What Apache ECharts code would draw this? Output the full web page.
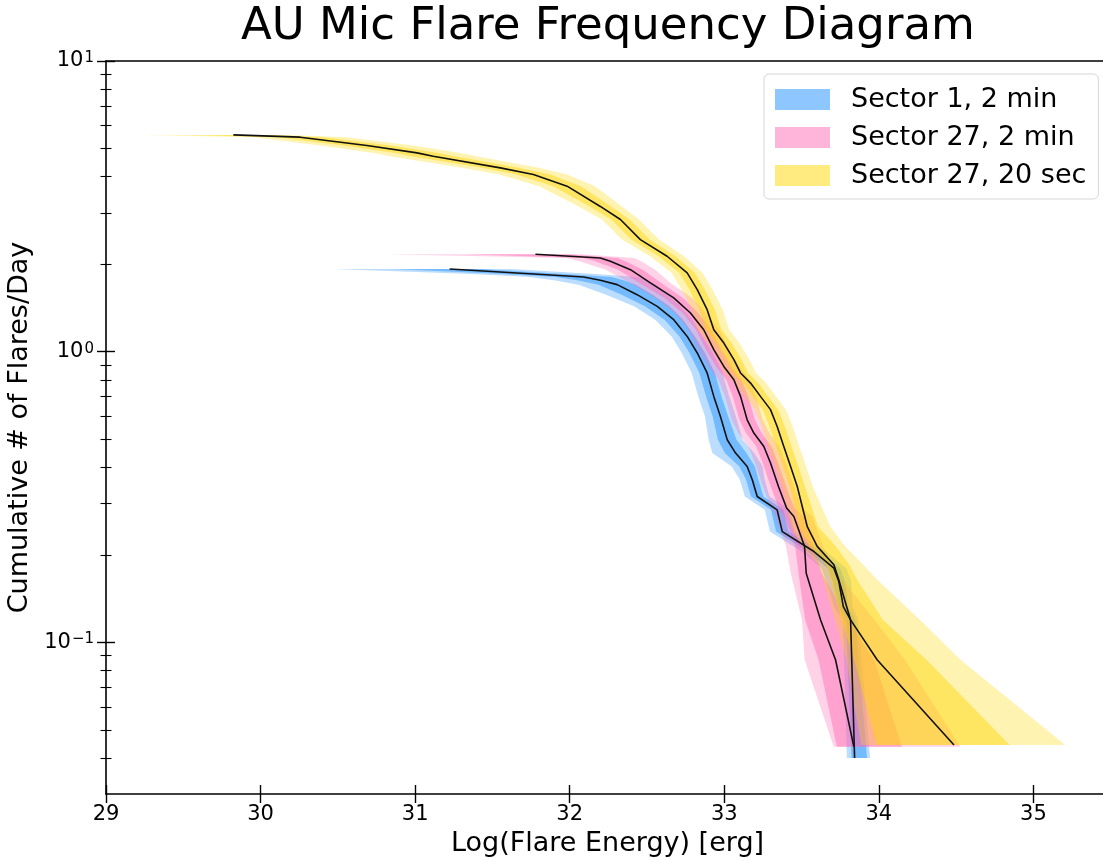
<!DOCTYPE html>
<html>
<head>
<meta charset="utf-8">
<title>AU Mic Flare Frequency Diagram</title>
<script src="https://cdn.jsdelivr.net/npm/echarts@6/dist/echarts.min.js"></script>
<style>
  html, body { margin: 0; padding: 0; background: #fff; }
  #chart { width: 1103px; height: 861px; }
</style>
</head>
<body>
<div id="chart"></div>
<script>
// values
// energy = log10(flare energy / erg), rate = cumulative flares per day
// band offsets are in dex from the median curve: outer lo, inner lo, inner hi, outer hi

// Sector 1, 2 min
const s1Rate = [1.926, 1.851, 1.807, 1.762, 1.701, 1.571, 1.432, 1.289, 1.129, 0.99, 0.845, 0.702, 0.599,
  0.498, 0.448, 0.403, 0.3625, 0.3177, 0.2858, 0.2406, 0.2054, 0.18, 0.162, 0.1328, 0.1195, 0.04];
const s1Energy = [31.223, 31.767, 32.09, 32.198, 32.307, 32.436, 32.566, 32.673, 32.76, 32.825, 32.889, 32.932, 32.975,
  33.019, 33.073, 33.148, 33.181, 33.213, 33.342, 33.375, 33.58, 33.709, 33.741, 33.77, 33.817, 33.843];
const s1OutLo = [0.75, 0.4, 0.35, 0.3, 0.25, 0.2, 0.15, 0.12, 0.1, 0.1, 0.1, 0.1, 0.1,
  0.12, 0.15, 0.1, 0.08, 0.08, 0.08, 0.08, 0.08, 0.08, 0.08, 0.06, 0.05, 0.05];
const s1InLo = [0.36, 0.2, 0.18, 0.15, 0.12, 0.1, 0.08, 0.06, 0.05, 0.05, 0.05, 0.05, 0.05,
  0.06, 0.07, 0.05, 0.04, 0.04, 0.04, 0.04, 0.04, 0.04, 0.04, 0.03, 0.03, 0.02];
const s1InHi = [0.2, 0.2, 0.18, 0.15, 0.12, 0.1, 0.08, 0.06, 0.05, 0.05, 0.05, 0.05, 0.05,
  0.06, 0.07, 0.05, 0.04, 0.04, 0.04, 0.04, 0.04, 0.04, 0.04, 0.03, 0.03, 0.08];
const s1OutHi = [0.4, 0.4, 0.35, 0.3, 0.25, 0.2, 0.15, 0.12, 0.1, 0.1, 0.1, 0.1, 0.1,
  0.1, 0.12, 0.1, 0.08, 0.08, 0.08, 0.08, 0.08, 0.08, 0.08, 0.06, 0.05, 0.1];

// Sector 27, 2 min
const s27Rate = [2.163, 2.101, 2.046, 1.915, 1.724, 1.531, 1.359, 1.19, 1.016, 0.89, 0.801, 0.702, 0.583,
  0.525, 0.472, 0.414, 0.343, 0.29, 0.271, 0.2254, 0.214, 0.173, 0.1195, 0.087, 0.0438];
const s27Energy = [31.778, 32.198, 32.263, 32.393, 32.522, 32.673, 32.781, 32.867, 32.932, 32.997, 33.062, 33.105, 33.148,
  33.191, 33.256, 33.299, 33.351, 33.403, 33.45, 33.504, 33.519, 33.53, 33.623, 33.72, 33.838];
const s27OutLo = [0.96, 0.22, 0.2, 0.16, 0.13, 0.12, 0.1, 0.1, 0.1, 0.1, 0.1, 0.1, 0.1,
  0.1, 0.1, 0.1, 0.1, 0.1, 0.12, 0.12, 0.12, 0.1, 0.12, 0.2, 0.13];
const s27InLo = [0.45, 0.11, 0.1, 0.08, 0.07, 0.06, 0.05, 0.05, 0.05, 0.05, 0.05, 0.05, 0.05,
  0.05, 0.05, 0.05, 0.05, 0.05, 0.06, 0.06, 0.06, 0.05, 0.1, 0.11, 0.11];
const s27InHi = [0.2, 0.11, 0.1, 0.08, 0.07, 0.06, 0.05, 0.05, 0.05, 0.05, 0.05, 0.05, 0.05,
  0.05, 0.05, 0.05, 0.05, 0.05, 0.06, 0.06, 0.06, 0.1, 0.18, 0.25, 0.31];
const s27OutHi = [0.3, 0.22, 0.2, 0.16, 0.13, 0.12, 0.1, 0.1, 0.1, 0.1, 0.1, 0.1, 0.1,
  0.1, 0.1, 0.1, 0.1, 0.1, 0.12, 0.12, 0.12, 0.2, 0.35, 0.45, 0.69];

// Sector 27, 20 sec
const s27fRate = [5.57, 5.47, 5.12, 4.83, 4.7, 4.29, 4.07, 3.71, 3.16, 2.85, 2.43, 2.13, 1.866, 1.635, 1.395, 1.19,
  1.071, 0.939, 0.845, 0.78, 0.702, 0.632, 0.553, 0.472, 0.403, 0.344, 0.25, 0.214, 0.185, 0.164, 0.1195, 0.087, 0.0444];
const s27fEnergy = [29.824, 30.256, 30.688, 31.012, 31.117, 31.551, 31.765, 31.983, 32.198, 32.328, 32.457, 32.63, 32.76,
  32.825, 32.889, 32.932, 32.997, 33.062, 33.105, 33.17, 33.234, 33.299, 33.342, 33.385, 33.429, 33.472, 33.537, 33.601,
  33.709, 33.741, 33.817, 33.99, 34.486];
const s27fOutLo = [0.58, 0.3, 0.3, 0.28, 0.28, 0.25, 0.22, 0.18, 0.14, 0.12, 0.12, 0.11, 0.1, 0.1, 0.1, 0.1,
  0.1, 0.1, 0.1, 0.1, 0.1, 0.1, 0.1, 0.1, 0.1, 0.1, 0.1, 0.1, 0.1, 0.1, 0.1, 0.2, 0.6];
const s27fInLo = [0.28, 0.15, 0.15, 0.14, 0.14, 0.12, 0.11, 0.09, 0.07, 0.06, 0.06, 0.055, 0.05, 0.05, 0.05, 0.05,
  0.05, 0.05, 0.05, 0.05, 0.05, 0.05, 0.05, 0.05, 0.05, 0.05, 0.05, 0.05, 0.05, 0.05, 0.06, 0.15, 0.5];
const s27fInHi = [0.2, 0.15, 0.15, 0.14, 0.14, 0.12, 0.11, 0.09, 0.07, 0.06, 0.06, 0.055, 0.05, 0.05, 0.05, 0.05,
  0.05, 0.05, 0.05, 0.05, 0.05, 0.05, 0.05, 0.05, 0.05, 0.05, 0.07, 0.12, 0.1, 0.12, 0.21, 0.32, 0.36];
const s27fOutHi = [0.35, 0.3, 0.3, 0.28, 0.28, 0.25, 0.22, 0.18, 0.14, 0.12, 0.12, 0.11, 0.1, 0.1, 0.1, 0.1,
  0.1, 0.1, 0.1, 0.1, 0.1, 0.1, 0.1, 0.1, 0.1, 0.1, 0.15, 0.18, 0.19, 0.25, 0.45, 0.54, 0.72];

const seriesNames = ['Sector 1, 2 min', 'Sector 27, 2 min', 'Sector 27, 20 sec'];
const xTicks = [29, 30, 31, 32, 33, 34, 35];
const yMajorTicks = [0.1, 1, 10];
const yMinorTicks = [0.04, 0.05, 0.06, 0.07, 0.08, 0.09, 0.2, 0.3, 0.4, 0.5, 0.6, 0.7, 0.8, 0.9,
  2, 3, 4, 5, 6, 7, 8, 9];

const FONT = 'DejaVu Sans';
// dodgerblue / hotpink / gold, layered with alpha like fill_betweenx
const bandRgb = ['30,144,255', '255,105,180', '255,215,0'];

// closed outline: down the low-energy edge, back up the high-energy edge
function bandOutline(rate, energy, lo, hi) {
  const left = rate.map((r, i) => [energy[i] - lo[i], r]);
  const right = rate.map((r, i) => [energy[i] + hi[i], r]).reverse();
  return left.concat(right);
}

function bandSeries(name, pts, fill) {
  return {
    type: 'custom',
    name: name,
    silent: true,
    clip: true,
    data: [[33, 1]],
    renderItem: function (params, api) {
      return {
        type: 'polygon',
        shape: { points: pts.map((p) => api.coord(p)) },
        style: { fill: fill },
      };
    },
  };
}

function medianSeries(name, rate, energy) {
  return {
    type: 'line',
    name: name,
    silent: true,
    showSymbol: false,
    data: rate.map((r, i) => [energy[i], r]),
    lineStyle: { color: '#111', width: 1.6 },
    z: 5,
  };
}

const groups = [
  [s1Rate, s1Energy, s1OutLo, s1InLo, s1InHi, s1OutHi],
  [s27Rate, s27Energy, s27OutLo, s27InLo, s27InHi, s27OutHi],
  [s27fRate, s27fEnergy, s27fOutLo, s27fInLo, s27fInHi, s27fOutHi],
];

const series = [];
groups.forEach((g, k) => {
  const [rate, energy, outLo, inLo, inHi, outHi] = g;
  series.push(bandSeries(seriesNames[k], bandOutline(rate, energy, outLo, outHi), 'rgba(' + bandRgb[k] + ',0.3)'));
  series.push(bandSeries(seriesNames[k] + ' inner', bandOutline(rate, energy, inLo, inHi), 'rgba(' + bandRgb[k] + ',0.45)'));
});
groups.forEach((g, k) => {
  series.push(medianSeries(seriesNames[k] + ' median', g[0], g[1]));
});

const yMin = 0.0301, yMax = 10;
const xMin = 29, xMax = 35.45;

function supLabel(v) {
  const e = Math.round(Math.log10(v));
  return '{b|10}{s|' + String(e).replace('-', '\u2212') + '}';
}

const tickLine = { color: '#000', width: 1.4 };
const baseY = { type: 'log', logBase: 10, min: yMin, max: yMax, position: 'left', splitLine: { show: false } };
const baseX = { type: 'value', min: xMin, max: xMax, splitLine: { show: false } };

const chart = echarts.init(document.getElementById('chart'));
chart.setOption({
  animation: false,
  backgroundColor: '#fff',
  title: {
    text: 'AU Mic Flare Frequency Diagram',
    left: 236,
    top: 0,
    textStyle: { fontFamily: FONT, fontSize: 45, fontWeight: 'normal', color: '#000' },
  },
  legend: {
    orient: 'vertical',
    left: 764,
    top: 74,
    padding: [12, 12, 10, 11],
    itemWidth: 55,
    itemHeight: 21,
    itemGap: 11,
    selectedMode: false,
    backgroundColor: '#fff',
    borderColor: '#d6d6d6',
    borderWidth: 1,
    borderRadius: 5,
    textStyle: { fontFamily: FONT, fontSize: 27, color: '#000', padding: [0, 0, 0, 16] },
    data: seriesNames.map((n, k) => ({ name: n, icon: 'rect', itemStyle: { color: 'rgba(' + bandRgb[k] + ',0.5)' } })),
  },
  grid: { left: 106, right: 0, top: 61, bottom: 67, containLabel: false, outerBoundsMode: 'none' },
  xAxis: [
    Object.assign({}, baseX, {
      position: 'bottom',
      name: 'Log(Flare Energy) [erg]',
      nameLocation: 'middle',
      nameGap: 36,
      nameTextStyle: { fontFamily: FONT, fontSize: 27, color: '#000', padding: [0, 0, 0, 6] },
      axisLine: { onZero: false, lineStyle: { color: '#000', width: 1.6 } },
      axisTick: { customValues: xTicks, length: 9, lineStyle: tickLine },
      axisLabel: { customValues: xTicks, margin: 10, fontFamily: FONT, fontSize: 21, color: '#000' },
    }),
    Object.assign({}, baseX, {
      position: 'bottom',
      axisLine: { show: false, onZero: false },
      axisTick: { customValues: xTicks, inside: true, length: 9, lineStyle: tickLine },
      axisLabel: { show: false },
    }),
    Object.assign({}, baseX, {
      position: 'top',
      axisLine: { onZero: false, lineStyle: { color: '#000', width: 1.6 } },
      axisTick: { show: false },
      axisLabel: { show: false },
    }),
  ],
  yAxis: [
    Object.assign({}, baseY, {
      name: 'Cumulative # of Flares/Day',
      nameLocation: 'middle',
      nameGap: 70,
      nameRotate: 90,
      nameTextStyle: { fontFamily: FONT, fontSize: 27, color: '#000' },
      axisLine: { lineStyle: { color: '#000', width: 1.6 } },
      axisTick: { customValues: yMajorTicks, length: 9, lineStyle: tickLine },
      axisLabel: {
        customValues: yMajorTicks,
        margin: 12,
        formatter: supLabel,
        rich: {
          b: { fontFamily: FONT, fontSize: 21, color: '#000' },
          s: { fontFamily: FONT, fontSize: 15, color: '#000', verticalAlign: 'top', padding: [0, 0, 4, 1] },
        },
      },
    }),
    Object.assign({}, baseY, {
      axisLine: { show: false },
      axisTick: { customValues: yMajorTicks, inside: true, length: 9, lineStyle: tickLine },
      axisLabel: { show: false },
    }),
    Object.assign({}, baseY, {
      axisLine: { show: false },
      axisTick: { customValues: yMinorTicks, length: 5.5, lineStyle: { color: '#000', width: 1.1 } },
      axisLabel: { show: false },
    }),
    Object.assign({}, baseY, {
      axisLine: { show: false },
      axisTick: { customValues: yMinorTicks, inside: true, length: 5.5, lineStyle: { color: '#000', width: 1.1 } },
      axisLabel: { show: false },
    }),
  ],
  series: series,
});
</script>
</body>
</html>
